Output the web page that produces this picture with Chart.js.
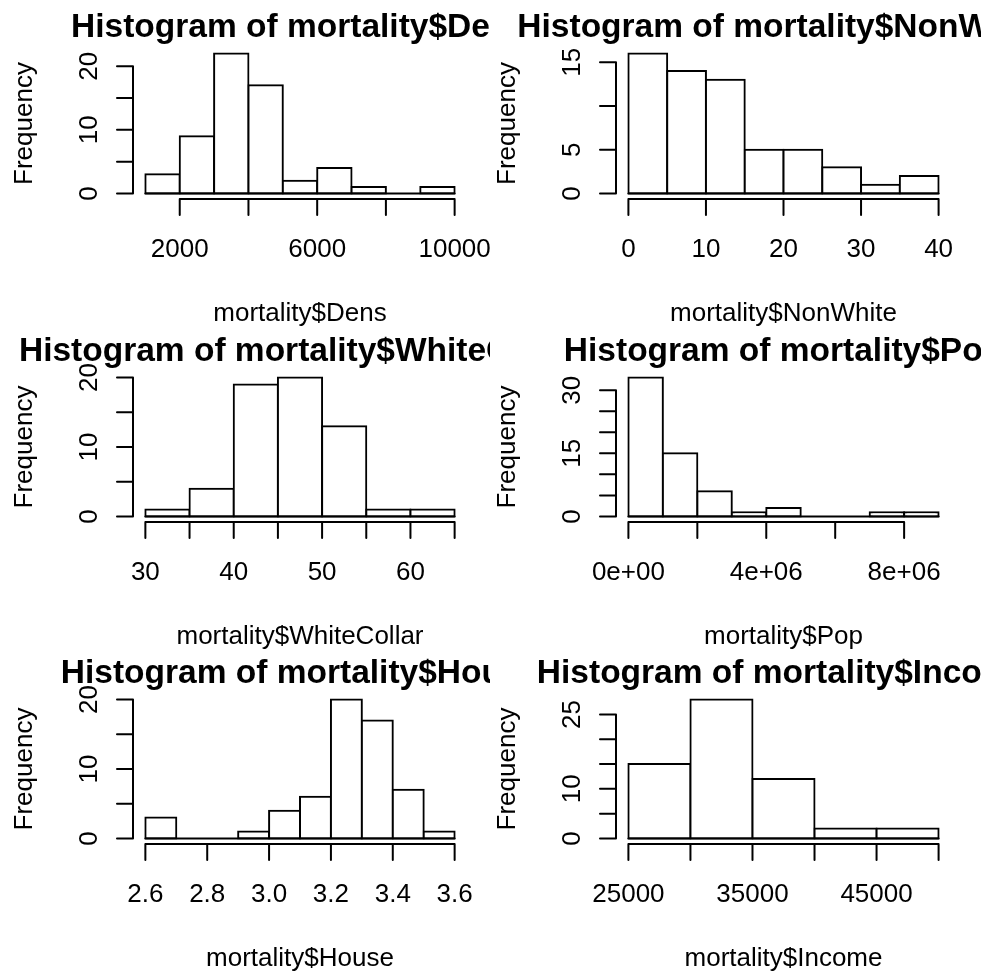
<!DOCTYPE html>
<html lang="en">
<head>
<meta charset="UTF-8">
<title>Histograms of mortality</title>
<script src="https://cdn.jsdelivr.net/npm/chart.js@4.4.1/dist/chart.umd.min.js"></script>
<style>
    body { margin: 0; background: #fff; }
    #grid { position: relative; width: 981px; height: 971px; background: #fff; overflow: hidden; }
    #grid canvas { position: absolute; }
</style>
</head>
<body>
<div id="grid">
    <canvas id="dens"></canvas>
    <canvas id="nonwhite"></canvas>
    <canvas id="whitecollar"></canvas>
    <canvas id="pop"></canvas>
    <canvas id="house"></canvas>
    <canvas id="income"></canvas>
</div>

<script>
// bin breaks + counts
const densBreaks = [1000, 2000, 3000, 4000, 5000, 6000, 7000, 8000, 9000, 10000];
const densCounts = [3, 9, 22, 17, 2, 4, 1, 0, 1];
const densXTicks = [2000, 4000, 6000, 8000, 10000];
const densXLabels = ['2000', '', '6000', '', '10000'];
const densYTicks = [0, 5, 10, 15, 20];
const densYLabels = ['0', '', '10', '', '20'];

const nonWhiteBreaks = [0, 5, 10, 15, 20, 25, 30, 35, 40];
const nonWhiteCounts = [16, 14, 13, 5, 5, 3, 1, 2];
const nonWhiteXTicks = [0, 10, 20, 30, 40];
const nonWhiteXLabels = ['0', '10', '20', '30', '40'];
const nonWhiteYTicks = [0, 5, 10, 15];
const nonWhiteYLabels = ['0', '5', '', '15'];

const whiteCollarBreaks = [30, 35, 40, 45, 50, 55, 60, 65];
const whiteCollarCounts = [1, 4, 19, 20, 13, 1, 1];
const whiteCollarXTicks = [30, 35, 40, 45, 50, 55, 60, 65];
const whiteCollarXLabels = ['30', '', '40', '', '50', '', '60', ''];
const whiteCollarYTicks = [0, 5, 10, 15, 20];
const whiteCollarYLabels = ['0', '', '10', '', '20'];

const popBreaks = [0, 1e6, 2e6, 3e6, 4e6, 5e6, 6e6, 7e6, 8e6, 9e6];
const popCounts = [33, 15, 6, 1, 2, 0, 0, 1, 1];
const popXTicks = [0, 2e6, 4e6, 6e6, 8e6];
const popXLabels = ['0e+00', '', '4e+06', '', '8e+06'];
const popYTicks = [0, 5, 10, 15, 20, 25, 30];
const popYLabels = ['0', '', '', '15', '', '', '30'];

const houseBreaks = [2.6, 2.7, 2.8, 2.9, 3.0, 3.1, 3.2, 3.3, 3.4, 3.5, 3.6];
const houseCounts = [3, 0, 0, 1, 4, 6, 20, 17, 7, 1];
const houseXTicks = [2.6, 2.8, 3.0, 3.2, 3.4, 3.6];
const houseXLabels = ['2.6', '2.8', '3.0', '3.2', '3.4', '3.6'];
const houseYTicks = [0, 5, 10, 15, 20];
const houseYLabels = ['0', '', '10', '', '20'];

const incomeBreaks = [25000, 30000, 35000, 40000, 45000, 50000];
const incomeCounts = [15, 28, 12, 2, 2];
const incomeXTicks = [25000, 30000, 35000, 40000, 45000, 50000];
const incomeXLabels = ['25000', '', '35000', '', '45000', ''];
const incomeYTicks = [0, 5, 10, 15, 20, 25];
const incomeYLabels = ['0', '', '10', '', '', '25'];

const FONT = '"Liberation Sans", Arial, Helvetica, sans-serif';

// canvas placement / plot margins (px)
const cols = [
    { left: 0, width: 490, padL: 133, padR: 23 },
    { left: 490, width: 491, padL: 126, padR: 30 }
];
const rows = [
    { top: 0, height: 340, padT: 48, padB: 141 },
    { top: 323, height: 340, padT: 49, padB: 141 },
    { top: 646, height: 325, padT: 48, padB: 127 }
];

const panels = [
    { id: 'dens', col: 0, row: 0, title: 'Histogram of mortality$Dens', xLabel: 'mortality$Dens',
      breaks: densBreaks, counts: densCounts, xTicks: densXTicks, xLabels: densXLabels, yTicks: densYTicks, yLabels: densYLabels },
    { id: 'nonwhite', col: 1, row: 0, title: 'Histogram of mortality$NonWhite', xLabel: 'mortality$NonWhite',
      breaks: nonWhiteBreaks, counts: nonWhiteCounts, xTicks: nonWhiteXTicks, xLabels: nonWhiteXLabels, yTicks: nonWhiteYTicks, yLabels: nonWhiteYLabels },
    { id: 'whitecollar', col: 0, row: 1, title: 'Histogram of mortality$WhiteCollar', xLabel: 'mortality$WhiteCollar',
      breaks: whiteCollarBreaks, counts: whiteCollarCounts, xTicks: whiteCollarXTicks, xLabels: whiteCollarXLabels, yTicks: whiteCollarYTicks, yLabels: whiteCollarYLabels },
    { id: 'pop', col: 1, row: 1, title: 'Histogram of mortality$Pop', xLabel: 'mortality$Pop',
      breaks: popBreaks, counts: popCounts, xTicks: popXTicks, xLabels: popXLabels, yTicks: popYTicks, yLabels: popYLabels },
    { id: 'house', col: 0, row: 2, title: 'Histogram of mortality$House', xLabel: 'mortality$House',
      breaks: houseBreaks, counts: houseCounts, xTicks: houseXTicks, xLabels: houseXLabels, yTicks: houseYTicks, yLabels: houseYLabels },
    { id: 'income', col: 1, row: 2, title: 'Histogram of mortality$Income', xLabel: 'mortality$Income',
      breaks: incomeBreaks, counts: incomeCounts, xTicks: incomeXTicks, xLabels: incomeXLabels, yTicks: incomeYTicks, yLabels: incomeYLabels }
];

// draws base-R style axes, titles and the zero line under the bars
const rStyle = {
    id: 'rStyle',
    afterDraw(chart, args, o) {
        const { ctx, chartArea: a, scales: { x, y } } = chart;
        const tick = 16;
        ctx.save();
        ctx.strokeStyle = '#000';
        ctx.fillStyle = '#000';
        ctx.lineWidth = 2;
        ctx.lineCap = 'round';

        // zero line along all bins (covers the empty ones)
        const y0 = y.getPixelForValue(0);
        ctx.beginPath();
        ctx.moveTo(x.getPixelForValue(o.breaks[0]), y0);
        ctx.lineTo(x.getPixelForValue(o.breaks[o.breaks.length - 1]), y0);
        ctx.stroke();

        // x axis
        ctx.beginPath();
        ctx.moveTo(x.getPixelForValue(o.xTicks[0]), a.bottom);
        ctx.lineTo(x.getPixelForValue(o.xTicks[o.xTicks.length - 1]), a.bottom);
        o.xTicks.forEach(v => {
            const px = x.getPixelForValue(v);
            ctx.moveTo(px, a.bottom);
            ctx.lineTo(px, a.bottom + tick);
        });
        ctx.stroke();

        // y axis
        ctx.beginPath();
        ctx.moveTo(a.left, y.getPixelForValue(o.yTicks[0]));
        ctx.lineTo(a.left, y.getPixelForValue(o.yTicks[o.yTicks.length - 1]));
        o.yTicks.forEach(v => {
            const py = y.getPixelForValue(v);
            ctx.moveTo(a.left, py);
            ctx.lineTo(a.left - tick, py);
        });
        ctx.stroke();

        ctx.textAlign = 'center';
        ctx.textBaseline = 'alphabetic';
        ctx.font = '26px ' + FONT;
        o.xTicks.forEach((v, i) => {
            if (o.xLabels[i]) ctx.fillText(o.xLabels[i], x.getPixelForValue(v), a.bottom + 58);
        });
        o.yTicks.forEach((v, i) => {
            if (!o.yLabels[i]) return;
            ctx.save();
            ctx.translate(a.left - 36, y.getPixelForValue(v));
            ctx.rotate(-Math.PI / 2);
            ctx.fillText(o.yLabels[i], 0, 0);
            ctx.restore();
        });

        const cx = (a.left + a.right) / 2;
        ctx.fillText(o.xLabel, cx, a.bottom + 122);
        ctx.save();
        ctx.translate(a.left - 101, (a.top + a.bottom) / 2);
        ctx.rotate(-Math.PI / 2);
        ctx.fillText('Frequency', 0, 0);
        ctx.restore();

        ctx.font = 'bold 33.5px ' + FONT;
        ctx.fillText(o.title, cx, a.top - 11);
        ctx.restore();
    }
};

panels.forEach(p => {
    const c = cols[p.col], r = rows[p.row];
    const canvas = document.getElementById(p.id);
    canvas.width = c.width;
    canvas.height = r.height;
    canvas.style.left = c.left + 'px';
    canvas.style.top = r.top + 'px';

    const lo = p.breaks[0], hi = p.breaks[p.breaks.length - 1];
    const span = hi - lo;
    const top = Math.max(...p.counts);
    const points = p.counts.map((n, i) => ({ x: (p.breaks[i] + p.breaks[i + 1]) / 2, y: n }));

    new Chart(canvas, {
        type: 'bar',
        data: {
            datasets: [{
                data: points,
                backgroundColor: '#ffffff',
                borderColor: '#000000',
                borderWidth: 2,
                borderSkipped: false,
                inflateAmount: 1,
                barPercentage: 1,
                categoryPercentage: 1
            }]
        },
        options: {
            responsive: false,
            animation: false,
            events: [],
            layout: { padding: { left: c.padL, right: c.padR, top: r.padT, bottom: r.padB } },
            plugins: {
                legend: { display: false },
                tooltip: { enabled: false },
                rStyle: p
            },
            scales: {
                x: {
                    type: 'linear', display: false, offset: false,
                    min: lo - 0.04 * span, max: hi + 0.04 * span,
                    afterBuildTicks: s => { s.ticks = p.xTicks.map(v => ({ value: v })); }
                },
                y: {
                    type: 'linear', display: false,
                    min: -0.04 * top, max: 1.04 * top,
                    afterBuildTicks: s => { s.ticks = p.yTicks.map(v => ({ value: v })); }
                }
            }
        },
        plugins: [rStyle]
    });
});
</script>
</body>
</html>
